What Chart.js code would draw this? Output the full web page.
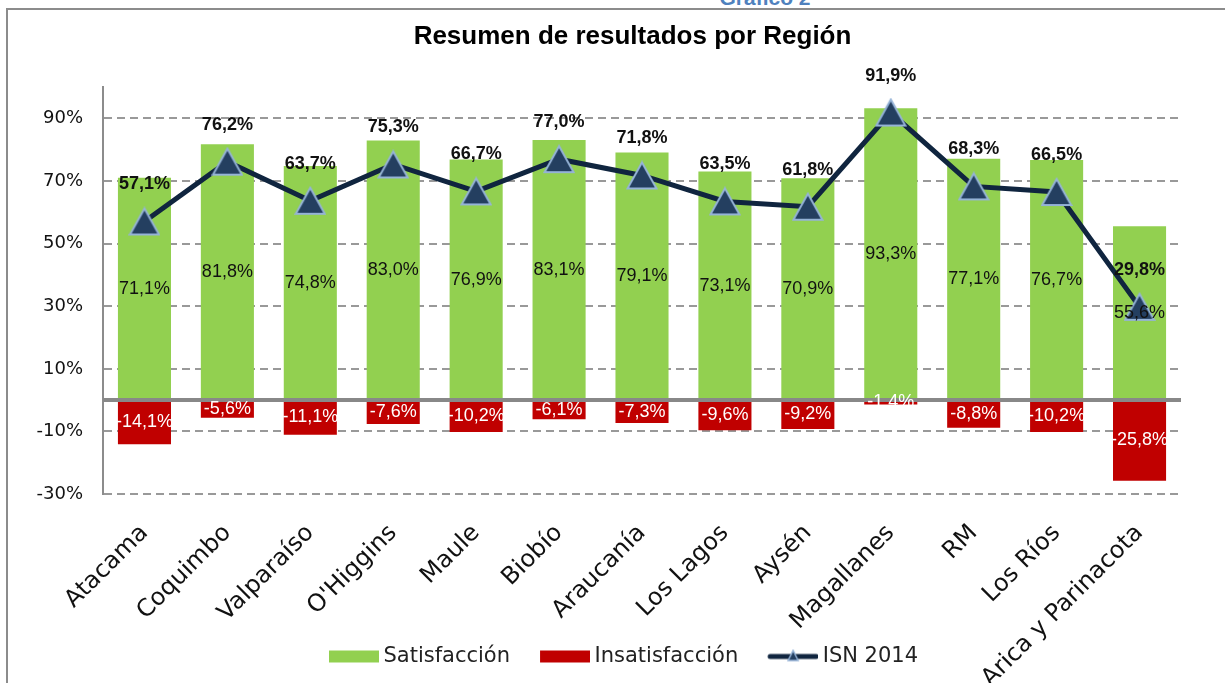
<!DOCTYPE html>
<html>
<head>
<meta charset="utf-8">
<script src="https://cdn.jsdelivr.net/npm/chart.js@4.4.1/dist/chart.umd.min.js"></script>
<style>
  html, body { margin: 0; padding: 0; background: #fff; }
  body { width: 1225px; height: 683px; position: relative; overflow: hidden; }
  #frame { position: absolute; left: 6px; top: 8px; width: 1240px; height: 700px; border: 2px solid #8c8c8c; box-sizing: border-box; }
  #sup { position: absolute; top: -14px; left: 0; width: 1530px; text-align: center; font: bold 21px "Liberation Sans", sans-serif; color: #4f81bd; }
  #wrap { position: absolute; left: 0; top: 0; width: 1225px; height: 683px; }
</style>
</head>
<body>
<div id="sup">Gráfico 2</div>
<div id="frame"></div>
<div id="wrap"><canvas id="chart"></canvas></div>
<script>
// data
const regions = ["Atacama", "Coquimbo", "Valparaíso", "O'Higgins", "Maule", "Biobío", "Araucanía", "Los Lagos", "Aysén", "Magallanes", "RM", "Los Ríos", "Arica y Parinacota"]
const satisfaccion = [71.1, 81.8, 74.8, 83.0, 76.9, 83.1, 79.1, 73.1, 70.9, 93.3, 77.1, 76.7, 55.6]
const insatisfaccion = [-14.1, -5.6, -11.1, -7.6, -10.2, -6.1, -7.3, -9.6, -9.2, -1.4, -8.8, -10.2, -25.8]
const isn2014 = [57.1, 76.2, 63.7, 75.3, 66.7, 77.0, 71.8, 63.5, 61.8, 91.9, 68.3, 66.5, 29.8]
const yTicks = [-30, -10, 10, 30, 50, 70, 90]

const GREEN = "#92d050"
const RED = "#c00000"
const NAVY = "#10253f"

const fmt = (v) => v.toFixed(1).replace(".", ",") + "%"

// triangle marker, centred on its box like the original
function triangleImg() {
  const c = document.createElement("canvas")
  c.width = 32
  c.height = 30
  const g = c.getContext("2d")
  g.fillStyle = "#243f60"
  g.strokeStyle = "#95b3d7"
  g.lineWidth = 2
  g.lineJoin = "miter"
  g.beginPath()
  g.moveTo(16, 2)
  g.lineTo(30.5, 28)
  g.lineTo(1.5, 28)
  g.closePath()
  g.fill()
  g.stroke()
  return c
}

// small images used as legend symbols
function legendImg(kind) {
  const c = document.createElement("canvas")
  c.width = 62
  c.height = 16
  const g = c.getContext("2d")
  if (kind === "line") {
    g.strokeStyle = NAVY
    g.lineWidth = 5
    g.lineCap = "round"
    g.beginPath()
    g.moveTo(14, 8)
    g.lineTo(60, 8)
    g.stroke()
    g.fillStyle = "#243f60"
    g.strokeStyle = "#95b3d7"
    g.lineWidth = 1.5
    g.beginPath()
    g.moveTo(37, 2)
    g.lineTo(42, 12)
    g.lineTo(32, 12)
    g.closePath()
    g.fill()
    g.stroke()
  } else {
    g.fillStyle = kind
    g.fillRect(12, 2, 50, 12)
  }
  return c
}

// zero line + value labels
const labelPlugin = {
  id: "labels",
  afterLayout(chart) {
    // legend sits a little left of the plot centre in the original
    chart.legend.left -= 12
    chart.legend.right -= 12
  },
  afterDatasetsDraw(chart) {
    const ctx = chart.ctx
    const y = chart.scales.y
    const area = chart.chartArea
    const y0 = y.getPixelForValue(0)
    ctx.save()
    ctx.strokeStyle = "#888888"
    ctx.lineWidth = 4
    ctx.beginPath()
    ctx.moveTo(area.left, y0)
    ctx.lineTo(area.right, y0)
    ctx.stroke()

    ctx.textAlign = "center"
    ctx.textBaseline = "middle"
    chart.data.datasets.forEach((ds, i) => {
      const meta = chart.getDatasetMeta(i)
      meta.data.forEach((el, j) => {
        const v = ds.data[j]
        if (meta.type === "bar") {
          ctx.font = "18px 'Liberation Sans', sans-serif"
          ctx.fillStyle = v < 0 ? "#ffffff" : "#111111"
          ctx.fillText(fmt(v), el.x, (el.y + el.base) / 2)
        } else {
          ctx.font = "bold 18px 'Liberation Sans', sans-serif"
          ctx.fillStyle = "#111111"
          ctx.fillText(fmt(v), el.x, el.y - 37)
        }
      })
    })
    ctx.restore()
  },
}

const ctx = document.getElementById("chart").getContext("2d")
const chart = new Chart(ctx, {
  type: "bar",
  data: {
    labels: regions,
    datasets: [
      {
        label: "ISN 2014",
        type: "line",
        data: isn2014,
        borderColor: NAVY,
        borderWidth: 5,
        pointStyle: triangleImg(),
        pointRadius: 15,
        tension: 0,
      },
      {
        label: "Satisfacción",
        data: satisfaccion,
        backgroundColor: GREEN,
        categoryPercentage: 0.64,
        barPercentage: 1,
      },
      {
        label: "Insatisfacción",
        data: insatisfaccion,
        backgroundColor: RED,
        categoryPercentage: 0.64,
        barPercentage: 1,
      },
    ],
  },
  options: {
    responsive: true,
    maintainAspectRatio: false,
    animation: false,
    layout: { padding: { left: 84, right: 44, top: 0, bottom: 6 } },
    plugins: {
      tooltip: { enabled: false },
      title: {
        display: true,
        text: "Resumen de resultados por Región",
        color: "#000",
        font: { family: "'Liberation Sans', sans-serif", size: 26, weight: "bold" },
        padding: { top: 21, bottom: 35 },
      },
      legend: {
        position: "bottom",
        labels: {
          usePointStyle: true,
          pointStyleWidth: 50,
          boxHeight: 12,
          padding: 24,
          color: "#222",
          font: { family: "'DejaVu Sans', sans-serif", size: 21 },
          generateLabels: () => [
            { text: "Satisfacción", pointStyle: legendImg(GREEN), datasetIndex: 1, lineWidth: 0, fontColor: "#222" },
            { text: "Insatisfacción", pointStyle: legendImg(RED), datasetIndex: 2, lineWidth: 0, fontColor: "#222" },
            { text: "ISN 2014", pointStyle: legendImg("line"), datasetIndex: 0, lineWidth: 0, fontColor: "#222" },
          ],
        },
      },
    },
    scales: {
      x: {
        stacked: true,
        grid: { display: false },
        border: { display: false },
        ticks: {
          autoSkip: false,
          minRotation: 45,
          maxRotation: 45,
          padding: 17,
          color: "#111",
          font: { family: "'DejaVu Sans', sans-serif", size: 24 },
        },
        afterFit: (scale) => {
          scale.height = 128
          // let long rotated labels run past the axis box, like the original
          scale._computeLabelArea = () => undefined
        },
      },
      y: {
        min: -30,
        max: 100,
        afterBuildTicks: (scale) => {
          scale.ticks = yTicks.map((v) => ({ value: v }))
        },
        afterFit: (scale) => {
          scale.width = 19
          scale._computeLabelArea = () => undefined
        },
        grid: { color: "#999999", lineWidth: 2, drawTicks: false },
        border: { display: true, color: "#8c8c8c", width: 2, dash: [8, 5] },
        ticks: {
          padding: 20,
          color: "#111",
          font: { family: "'DejaVu Sans', sans-serif", size: 18 },
          callback: (v) => v + "%",
        },
      },
    },
  },
  plugins: [labelPlugin],
})
</script>
</body>
</html>
